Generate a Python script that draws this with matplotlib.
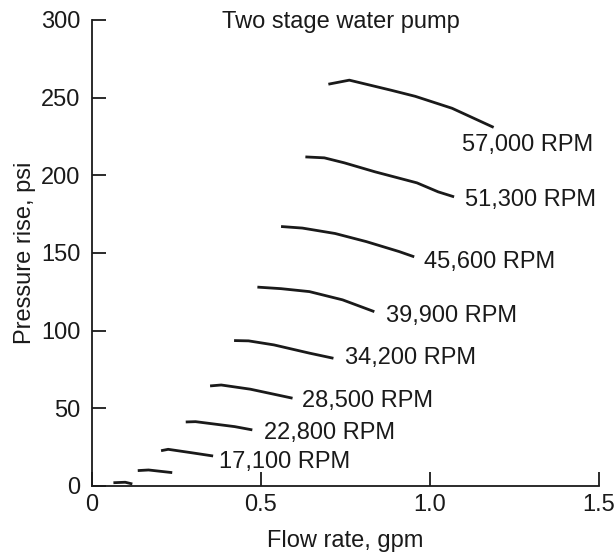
import matplotlib.pyplot as plt

plt.rcParams['font.family'] = ['Liberation Sans', 'DejaVu Sans']

# pump curves: flow (gpm), pressure rise (psi)
flow_57000 = [0.700, 0.762, 0.886, 0.957, 1.066, 1.189]
psi_57000 = [258.6, 261.2, 254.7, 250.8, 243.1, 230.8]

flow_51300 = [0.632, 0.688, 0.747, 0.838, 0.962, 1.025, 1.072]
psi_51300 = [211.8, 211.2, 208.0, 202.2, 195.1, 189.3, 186.1]

flow_45600 = [0.560, 0.623, 0.720, 0.812, 0.909, 0.954]
psi_45600 = [167.0, 166.0, 162.5, 157.3, 150.9, 147.5]

flow_39900 = [0.490, 0.560, 0.644, 0.742, 0.836]
psi_39900 = [128.0, 127.0, 125.1, 119.8, 112.2]

flow_34200 = [0.421, 0.464, 0.539, 0.644, 0.715]
psi_34200 = [93.6, 93.4, 90.8, 85.5, 82.2]

flow_28500 = [0.350, 0.383, 0.469, 0.594]
psi_28500 = [64.4, 65.0, 62.3, 56.5]

flow_22800 = [0.278, 0.307, 0.423, 0.475]
psi_22800 = [41.2, 41.4, 38.2, 36.1]

flow_17100 = [0.205, 0.226, 0.295, 0.359]
psi_17100 = [22.7, 23.6, 21.4, 19.3]

flow_11400 = [0.136, 0.168, 0.238]
psi_11400 = [9.9, 10.3, 8.6]

flow_5700 = [0.064, 0.099, 0.120]
psi_5700 = [2.1, 2.4, 1.3]

curves = [
    (flow_57000, psi_57000),
    (flow_51300, psi_51300),
    (flow_45600, psi_45600),
    (flow_39900, psi_39900),
    (flow_34200, psi_34200),
    (flow_28500, psi_28500),
    (flow_22800, psi_22800),
    (flow_17100, psi_17100),
    (flow_11400, psi_11400),
    (flow_5700, psi_5700),
]

# labels and where they sit (data coords)
labels = ["57,000 RPM", "51,300 RPM", "45,600 RPM", "39,900 RPM",
          "34,200 RPM", "28,500 RPM", "22,800 RPM", "17,100 RPM"]
label_x = [1.095, 1.104, 0.983, 0.871, 0.750, 0.623, 0.511, 0.375]
label_y = [219.6, 184.0, 144.0, 109.5, 82.4, 54.7, 34.0, 15.5]

fig = plt.figure(figsize=(6.16, 5.52), dpi=100)
ax = fig.add_axes([0.149, 0.1196, 0.823, 0.8444])

for fx, py in curves:
    ax.plot(fx, py, color="#1a1a1a", lw=2.0, solid_capstyle="butt")

for lab, lx, ly in zip(labels, label_x, label_y):
    ax.text(lx, ly, lab, fontsize=17, va="center", ha="left", color="#1a1a1a")

ax.text(0.738, 298.5, "Two stage water pump", fontsize=17, ha="center",
        va="center", color="#1a1a1a")

ax.set_xlim(0, 1.5)
ax.set_ylim(0, 300)
ax.set_xticks([0, 0.5, 1.0, 1.5])
ax.set_xticklabels(["0", "0.5", "1.0", "1.5"])
ax.set_yticks([0, 50, 100, 150, 200, 250, 300])

ax.spines["top"].set_visible(False)
ax.spines["right"].set_visible(False)
for s in ["left", "bottom"]:
    ax.spines[s].set_linewidth(1.3)
    ax.spines[s].set_color("#1a1a1a")

ax.tick_params(direction="in", length=10, width=1.3, labelsize=17,
               colors="#1a1a1a")
ax.tick_params(axis="x", pad=6)
ax.tick_params(axis="y", pad=8)

ax.set_xlabel("Flow rate, gpm", fontsize=17, color="#1a1a1a", labelpad=10)
ax.set_ylabel("Pressure rise, psi", fontsize=17, color="#1a1a1a", labelpad=4)

plt.savefig("out.png", dpi=100)
